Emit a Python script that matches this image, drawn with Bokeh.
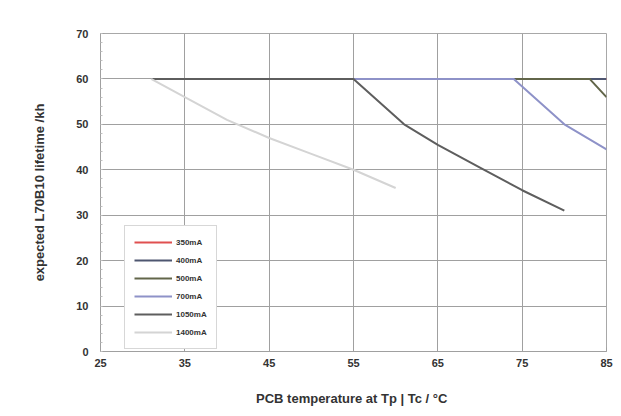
from bokeh.plotting import figure
from bokeh.models import Legend, LegendItem, FixedTicker
from bokeh.embed import file_html
from bokeh.resources import INLINE

# data
series_names = ["350mA", "400mA", "500mA", "700mA", "1050mA", "1400mA"]
temp_350 = [31, 85]
life_350 = [60, 60]
temp_400 = [31, 85]
life_400 = [60, 60]
temp_500 = [31, 83, 85]
life_500 = [60, 60, 56]
temp_700 = [31, 74, 80, 85]
life_700 = [60, 60, 50, 44.5]
temp_1050 = [31, 55, 61, 65, 70, 75, 80]
life_1050 = [60, 60, 50, 45.5, 40.5, 35.5, 31]
temp_1400 = [31, 35, 40, 45, 50, 55, 60]
life_1400 = [60, 56, 51, 47, 43.5, 40, 36]
x_ticks = [25, 35, 45, 55, 65, 75, 85]
y_ticks = [0, 10, 20, 30, 40, 50, 60, 70]

colors = ["#e05050", "#4e5670", "#62664a", "#8e92c8", "#5e5e5e", "#d4d4d4"]
temps = [temp_350, temp_400, temp_500, temp_700, temp_1050, temp_1400]
lifes = [life_350, life_400, life_500, life_700, life_1050, life_1400]

FONT = "Liberation Sans"

p = figure(width=613, height=408, x_range=(25, 85), y_range=(0, 70),
           output_backend="svg", toolbar_location=None,
           min_border_left=100, min_border_right=7, min_border_top=33, min_border_bottom=40)

p.outline_line_color = "#a8a8a8"
p.outline_line_width = 1

p.xaxis.ticker = FixedTicker(ticks=x_ticks)
p.yaxis.ticker = FixedTicker(ticks=y_ticks, minor_ticks=list(range(0, 71, 2)))
for ax in (p.xaxis[0], p.yaxis[0]):
    ax.axis_line_color = "#a0a0a0"
    ax.major_tick_line_color = "#a0a0a0"
    ax.minor_tick_line_color = "#c0c0c0"
    ax.major_tick_in = 4
    ax.major_tick_out = 0
    ax.minor_tick_in = 2
    ax.minor_tick_out = 0
    ax.major_label_text_font = FONT
    ax.major_label_text_font_style = "bold"
    ax.major_label_text_font_size = "11px"
    ax.major_label_text_color = "#333333"
    ax.axis_label_text_font = FONT
    ax.axis_label_text_font_style = "bold"
    ax.axis_label_text_font_size = "13px"
    ax.axis_label_text_color = "#333333"

p.xaxis.major_label_standoff = 7
p.yaxis.major_label_standoff = 12
p.xaxis.axis_label = "PCB temperature at Tp | Tc  / \u00b0C"
p.yaxis.axis_label = "expected L70B10 lifetime /kh"
p.xaxis.axis_label_standoff = 21
p.yaxis.axis_label_standoff = 26

p.xgrid.grid_line_color = "#a0a0a0"
p.ygrid.grid_line_color = "#a0a0a0"
p.xgrid.grid_line_width = 1
p.ygrid.grid_line_width = 1

items = []
for name, xs, ys, c in zip(series_names, temps, lifes, colors):
    r = p.line(xs, ys, line_color=c, line_width=2)
    items.append(LegendItem(label=name, renderers=[r]))

legend = Legend(items=items, location=(24, 2))
legend.label_text_font = FONT
legend.label_text_font_style = "bold"
legend.label_text_font_size = "8px"
legend.label_text_color = "#333333"
legend.glyph_width = 38
legend.glyph_height = 14
legend.label_height = 14
legend.spacing = 4
legend.label_standoff = 4
legend.margin = 0
legend.border_line_color = "#b0b0b0"
legend.border_line_width = 1
legend.background_fill_alpha = 1
legend.padding = 9
p.add_layout(legend, "center")

open("out.html", "w").write(file_html(p, INLINE))
